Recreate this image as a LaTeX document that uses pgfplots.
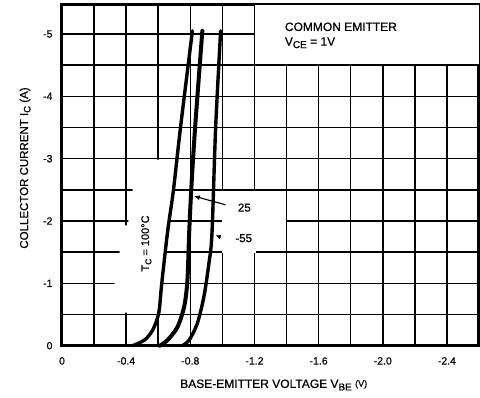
\documentclass[border=0pt]{standalone}
\usepackage{fontspec}
\setmainfont{Liberation Sans}[BoldFont={Liberation Sans}, BoldFeatures={FakeBold=0.6}]
\usepackage{pgfplots}
\pgfplotsset{compat=1.18}
\usetikzlibrary{arrows.meta}
\begin{document}
\begin{tikzpicture}
\begin{axis}[
  set layers=standard,
  scale only axis,
  width=417pt, height=341pt,
  x dir=reverse, y dir=reverse,
  xmin=-2.6, xmax=0, ymin=-5.47, ymax=0,
  xtick={0,-0.2,-0.4,-0.6,-0.8,-1.0,-1.2,-1.4,-1.6,-1.8,-2.0,-2.2,-2.4},
  xticklabels={0,,-0.4,,-0.8,,-1.2,,-1.6,,-2.0,,-2.4},
  ytick={0,-0.5,-1,-1.5,-2,-2.5,-3,-3.5,-4,-4.5,-5},
  yticklabels={0,,-1,,-2,,-3,,-4,,-5},
  grid=major,
  major grid style={black, line width=1.5pt},
  major tick length=0pt,
  axis line style={line width=3pt},
  clip=false,
  tick label style={font=\fontsize{10.5}{12}\selectfont\bfseries},
  xticklabel style={yshift=-8pt},
  yticklabel style={xshift=-6pt},
]
\fill[white, on layer=axis ticks] (axis cs:-1.206,-4.513) rectangle (axis cs:-2.6,-5.47);
\fill[white, on layer=axis ticks] (axis cs:-0.997,-2.487) rectangle (axis cs:-1.394,-1.99);
\fill[white, on layer=axis ticks] (axis cs:-0.997,-2.0) rectangle (axis cs:-1.21,-1.488);
\fill[white, on layer=axis ticks] (axis cs:-0.30,-0.53) -- (axis cs:-0.385,-1.93) -- (axis cs:-0.41,-1.93)
  -- (axis cs:-0.44,-2.45) -- (axis cs:-0.44,-2.985) -- (axis cs:-0.725,-2.985)
  -- (axis cs:-0.695,-2.5) -- (axis cs:-0.665,-2.0) -- (axis cs:-0.64,-1.5)
  -- (axis cs:-0.618,-1.0) -- (axis cs:-0.603,-0.53) -- cycle;

% Tc = 100 C
\addplot[black, line width=3.4pt, smooth, tension=0.5, line cap=round] coordinates {
(-0.44,0) (-0.514,-0.09) (-0.565,-0.25) (-0.603,-0.52) (-0.622,-1.0)
(-0.658,-1.82) (-0.695,-2.5) (-0.737,-3.46) (-0.813,-5.05)};
% 25 C
\addplot[black, line width=4pt, smooth, tension=0.5, line cap=round] coordinates {
(-0.61,0) (-0.658,-0.09) (-0.72,-0.3) (-0.762,-0.63) (-0.782,-1.05)
(-0.793,-1.82) (-0.808,-2.6) (-0.83,-3.5) (-0.875,-5.05)};
% -55 C
\addplot[black, line width=3.4pt, smooth, tension=0.5, line cap=round] coordinates {
(-0.75,0) (-0.793,-0.09) (-0.844,-0.36) (-0.885,-0.79) (-0.916,-1.32)
(-0.935,-1.8) (-0.958,-3.5) (-0.989,-5.05)};

\draw[line width=1.1pt, -{Latex[length=6pt,width=5pt]}] (axis cs:-1.02,-2.26) -- (axis cs:-0.822,-2.40);
\draw[line width=1pt, -{Latex[length=5pt,width=5pt]}] (axis cs:-0.99,-1.74) -- (axis cs:-0.958,-1.77);

\node[anchor=west, font=\fontsize{12}{14}\selectfont\bfseries] at (axis cs:-1.368,-5.115) {COMMON EMITTER};
\node[anchor=west, font=\fontsize{12}{14}\selectfont\bfseries] at (axis cs:-1.368,-4.86) {V\raisebox{-0.4ex}{\fontsize{10}{11}\selectfont CE} = 1V};
\node[font=\fontsize{11.5}{13}\selectfont\bfseries] at (axis cs:-1.137,-2.215) {25};
\node[font=\fontsize{11.5}{13}\selectfont\bfseries] at (axis cs:-1.133,-1.724) {-55};
\node[rotate=90, font=\fontsize{11}{12}\selectfont\bfseries] at (axis cs:-0.526,-1.64) {T\raisebox{-0.4ex}{\fontsize{8.5}{9}\selectfont C} = 100°C};

\node[rotate=90, font=\fontsize{11.5}{13}\selectfont\bfseries] at (axis cs:0.23,-2.85) {COLLECTOR CURRENT I\raisebox{-0.4ex}{\fontsize{9.5}{10}\selectfont C} (A)};
\node[font=\fontsize{12}{14}\selectfont\bfseries] at (axis cs:-1.32,0.63) {BASE-EMITTER VOLTAGE V\raisebox{-0.4ex}{\fontsize{10}{11}\selectfont BE} \raisebox{0.2ex}{\fontsize{9}{10}\selectfont (V)}};
\end{axis}
\pgfresetboundingbox
\path (-62pt,-51.3pt) rectangle (418pt,345.7pt);
\end{tikzpicture}
\end{document}
